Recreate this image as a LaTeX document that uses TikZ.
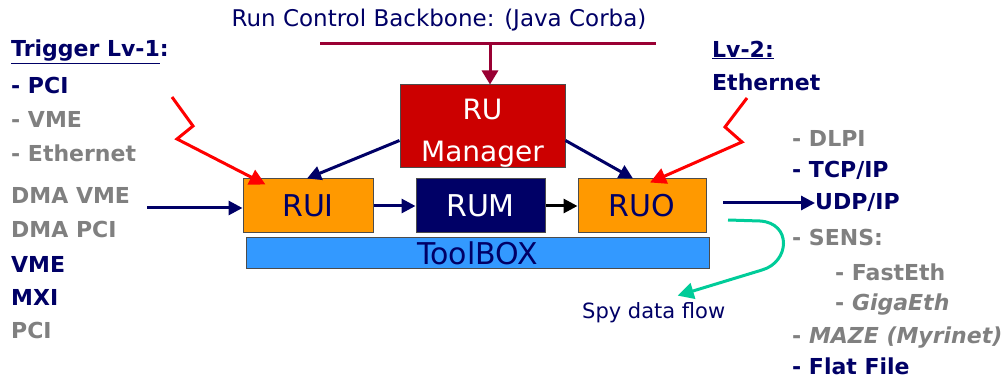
\documentclass[tikz,border=0pt]{standalone}
\usepackage{fontspec}
\setmainfont{DejaVu Sans}
\usetikzlibrary{arrows.meta}
\definecolor{navy}{HTML}{000066}
\definecolor{gtext}{HTML}{808080}
\definecolor{mgrred}{HTML}{CC0000}
\definecolor{orng}{HTML}{FF9900}
\definecolor{tblue}{HTML}{3399FF}
\definecolor{bbred}{HTML}{990033}
\definecolor{spygreen}{HTML}{00CC99}
\tikzset{
  box/.style={draw=black!70, line width=1pt, inner sep=0pt},
  lst/.style={anchor=west, inner sep=0pt, font=\fontsize{22}{26}\selectfont\bfseries},
  nv/.style={lst, text=navy},
  gr/.style={lst, text=gtext},
  navyarrow/.style={draw=navy, line width=3pt, -{Triangle[length=14pt,width=14pt]}},
  redarrow/.style={draw=red, line width=3pt, line join=miter, -{Triangle[length=16pt,width=16pt]}},
}
\begin{document}
\begin{tikzpicture}[x=1pt,y=-1pt]
\useasboundingbox (0,0) rectangle (1003,379);
% title and backbone
\node[anchor=center, inner sep=0pt, text=navy, font=\fontsize{23}{26}\selectfont] (title) at (439,20) {Run Control Backbone: (Java Corba)};
\coordinate (bbL) at (320,44);
\coordinate (bbR) at (656,44);
\coordinate (bbA) at (490,44);
\draw[draw=bbred, line width=3pt] (bbL) -- (bbR);
% boxes
\node[box, fill=mgrred, minimum width=165pt, minimum height=83pt, text=white, align=center, font=\fontsize{28}{42}\selectfont] (mgr) at (482.5,126.5) {\raisebox{-7pt}[\height][\depth]{RU}\\\raisebox{-7pt}[\height][\depth]{Manager}};
\node[box, fill=orng, minimum width=130pt, minimum height=54pt, text=navy, font=\fontsize{30}{34}\selectfont] (rui) at (308,206) {RUI};
\node[box, fill=navy, minimum width=129pt, minimum height=54pt, text=white, font=\fontsize{30}{34}\selectfont] (rum) at (480.5,206) {RUM};
\node[box, fill=orng, minimum width=128pt, minimum height=54pt, text=navy, font=\fontsize{30}{34}\selectfont] (ruo) at (642,206) {RUO};
\node[box, fill=tblue, minimum width=463pt, minimum height=30pt, text=navy, font=\fontsize{30}{34}\selectfont] (tool) at (477.5,253) {ToolBOX};
% backbone arrow
\draw[draw=bbred, line width=3pt, -{Triangle[length=14pt,width=16pt]}] (bbA) -- (bbA |- mgr.north);
% manager arrows
\draw[navyarrow] ([yshift=28pt]mgr.south west) -- ([xshift=-1pt]rui.north);
\draw[navyarrow] ([yshift=28pt]mgr.south east) -- ([xshift=-9pt]ruo.north);
\draw[navyarrow] (rui.east) -- (rum.west);
\draw[draw=black, line width=3pt, -{Triangle[length=14pt,width=14pt]}] (rum.east) -- (ruo.west);
% input / output
\coordinate (inS) at (147,208);
\draw[navyarrow] (inS) -- (inS -| rui.west);
\coordinate (outS) at (723,203);
\coordinate (outE) at (815,203);
\draw[navyarrow] (outS) -- (outE);
% trigger arrows
\coordinate (t1) at (172,97);
\draw[redarrow] (t1) -- (193,126) -- (177,139) -- ([xshift=23pt,yshift=-6pt]rui.north west);
\coordinate (t2) at (747,98);
\draw[redarrow] (t2) -- (725,127) -- (742,142) -- ([xshift=8pt,yshift=-4pt]ruo.north);
% spy
\node[anchor=west, inner sep=0pt, text=navy, font=\fontsize{21}{24}\selectfont] (spy) at (582,313) {Spy data flow};
\coordinate (sp0) at (728,220);
\draw[draw=spygreen, line width=3pt, -{Triangle[length=16pt,width=16pt]}] (sp0) -- (760,221) .. controls (792,223) and (790,262) .. (762,270) -- ([xshift=24pt,yshift=7pt]spy.north);
% left lists
\node[nv] (trig) at (11,52) {\underline{Trigger Lv-1}:};
\node[nv] (l1) at (11,85) {- PCI};
\node[gr] (l2) at (11,119) {- VME};
\node[gr] (l3) at (11,153) {- Ethernet};
\node[gr] (l4) at (11,195) {DMA VME};
\node[gr] (l5) at (11,229) {DMA PCI};
\node[nv] (l6) at (11,264) {VME};
\node[nv] (l7) at (11,297) {MXI};
\node[gr] (l8) at (11,330) {PCI};
% right lists
\node[nv] (lv2) at (712,50) {\underline{Lv-2:}};
\node[nv] (r0) at (712,82) {Ethernet};
\node[gr] (r1) at (792,138) {- DLPI};
\node[nv] (r2) at (792,170) {- TCP/IP};
\node[nv] (r3) at (815,203) {UDP/IP};
\node[gr] (r4) at (792,237) {- SENS:};
\node[gr] (r5) at (835,272) {- FastEth};
\node[gr] (r6) at (835,305) {- \textit{GigaEth}};
\node[gr] (r7) at (792,338) {- \textit{MAZE (Myrinet)}};
\node[nv] (r8) at (792,366) {- Flat File};
\end{tikzpicture}
\end{document}
